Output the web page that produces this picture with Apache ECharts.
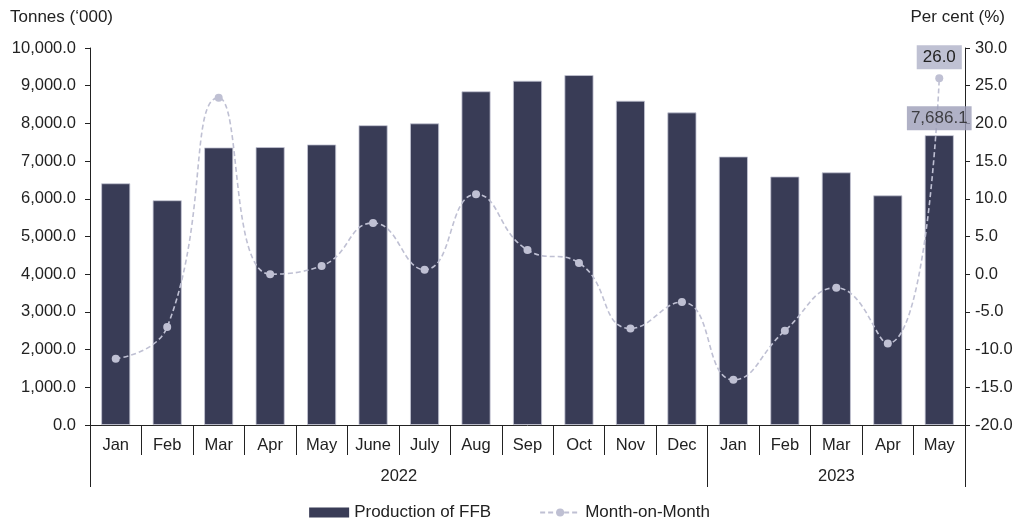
<!DOCTYPE html>
<html>
<head>
<meta charset="utf-8">
<script src="https://cdn.jsdelivr.net/npm/echarts@6/dist/echarts.min.js"></script>
<style>
  html, body { margin: 0; padding: 0; background: #fff; }
  #chart { width: 1019px; height: 526px; }
</style>
</head>
<body>
<div id="chart"></div>
<script>
// Monthly FFB production ('000 tonnes) and month-on-month change (%)
const months = ['Jan', 'Feb', 'Mar', 'Apr', 'May', 'June', 'July', 'Aug', 'Sep', 'Oct', 'Nov', 'Dec',
                'Jan', 'Feb', 'Mar', 'Apr', 'May'];
const years = ['2022', '2023'];
const yearMonthCounts = [12, 5];
const production = [6410, 5960, 7360, 7370, 7440, 7950, 8000, 8850, 9130, 9280, 8600, 8290,
                    7120, 6590, 6700, 6090, 7686.1];
const momChange = [-11.2, -7.0, 23.4, 0.0, 1.1, 6.8, 0.6, 10.6, 3.2, 1.5, -7.2, -3.7,
                   -14.0, -7.5, -1.8, -9.2, 26.0];
const leftTicks = { min: 0, max: 10000, step: 1000 };
const rightTicks = { min: -20, max: 30, step: 5 };

const fontFamily = '"Liberation Sans", Arial, sans-serif';
const textColor = '#222';
const fontSize = 16.5;
const fmt1 = v => Number(v).toLocaleString('en-US', { minimumFractionDigits: 1, maximumFractionDigits: 1 });

// Year group boundaries and centres on a 0..n scale of category slots
const boundaries = [0];
const centres = [];
yearMonthCounts.forEach(n => {
  const start = boundaries[boundaries.length - 1];
  centres.push(start + n / 2);
  boundaries.push(start + n);
});

const lastIdx = production.length - 1;
// Latest production value gets its own label layer so it sits above the line
const latestProduction = production.map((v, i) => i === lastIdx ? v : '-');
const lineData = momChange.map((v, i) => i === lastIdx ? {
  value: v,
  label: {
    show: true, position: 'top', distance: 5,
    formatter: p => fmt1(p.value),
    backgroundColor: '#bfc1d3', color: textColor,
    fontFamily, fontSize: 17, padding: [4, 6, 3, 6]
  }
} : v);

const chart = echarts.init(document.getElementById('chart'), null, { renderer: 'canvas' });
chart.setOption({
  animation: false,
  backgroundColor: '#fff',
  textStyle: { fontFamily, color: textColor },
  grid: { left: 90, right: 54, top: 48, bottom: 101, containLabel: false },
  legend: {
    bottom: 0, left: 'center', itemGap: 48, itemWidth: 40, itemHeight: 10,
    textStyle: { fontFamily, fontSize: 17, color: textColor },
    data: [
      { name: 'Production of FFB', icon: 'rect', itemStyle: { borderWidth: 0 } },
      { name: 'Month-on-Month' }
    ]
  },
  xAxis: [
    {
      type: 'category', data: months, position: 'bottom',
      axisLine: { show: true, onZero: false, lineStyle: { color: '#222', width: 1 } },
      axisTick: { show: true, interval: 0, alignWithLabel: false, length: 30, lineStyle: { color: '#222' } },
      axisLabel: { interval: 0, margin: 12, fontSize, color: textColor, fontFamily },
      splitLine: { show: false }
    },
    {
      type: 'value', position: 'bottom', min: boundaries[0], max: boundaries[boundaries.length - 1],
      axisLine: { show: false, onZero: false },
      axisTick: { show: true, customValues: boundaries, length: 62, lineStyle: { color: '#222' } },
      axisLabel: {
        customValues: centres, margin: 43, fontSize, color: textColor, fontFamily,
        formatter: v => years[centres.indexOf(v)] || ''
      },
      splitLine: { show: false }
    }
  ],
  yAxis: [
    {
      type: 'value', min: leftTicks.min, max: leftTicks.max, interval: leftTicks.step,
      name: 'Tonnes (\u2018000)', nameLocation: 'end', nameGap: 22,
      nameTextStyle: { fontSize: 17, color: textColor, fontFamily, align: 'left', padding: [0, 0, 0, -80] },
      axisLine: { show: true, lineStyle: { color: '#222' } },
      axisTick: { show: true, length: 5, lineStyle: { color: '#222' } },
      axisLabel: { margin: 14, fontSize, color: textColor, fontFamily, formatter: v => fmt1(v) },
      splitLine: { show: false }
    },
    {
      type: 'value', min: rightTicks.min, max: rightTicks.max, interval: rightTicks.step,
      position: 'right',
      name: 'Per cent (%)', nameLocation: 'end', nameGap: 22,
      nameTextStyle: { fontSize: 17, color: textColor, fontFamily, align: 'right', padding: [0, -40, 0, 0] },
      axisLine: { show: true, lineStyle: { color: '#222' } },
      axisTick: { show: true, length: 5, lineStyle: { color: '#222' } },
      axisLabel: { margin: 10, fontSize, color: textColor, fontFamily, formatter: v => fmt1(v) },
      splitLine: { show: false }
    }
  ],
  series: [
    {
      name: 'Production of FFB', type: 'bar', xAxisIndex: 0, yAxisIndex: 0,
      data: production, barWidth: 29,
      itemStyle: { color: '#393c56', borderColor: '#c4c5d4', borderWidth: 0.8 },
      z: 2
    },
    {
      name: 'Month-on-Month', type: 'line', xAxisIndex: 0, yAxisIndex: 1,
      data: lineData, smooth: 0.5,
      symbol: 'circle', symbolSize: 8,
      lineStyle: { color: '#bfc0d3', width: 1.6, type: [5, 3] },
      itemStyle: { color: '#bfc0d3' },
      z: 3
    },
    {
      name: 'Production label', type: 'scatter', xAxisIndex: 0, yAxisIndex: 0,
      data: latestProduction, symbolSize: 0, silent: true, legendHoverLink: false,
      label: {
        show: true, position: 'top', distance: 5,
        formatter: p => fmt1(p.value),
        backgroundColor: '#9c9db8', color: textColor,
        fontFamily, fontSize: 17, padding: [4, 4, 3, 4]
      },
      z: 6
    }
  ]
});
</script>
</body>
</html>
